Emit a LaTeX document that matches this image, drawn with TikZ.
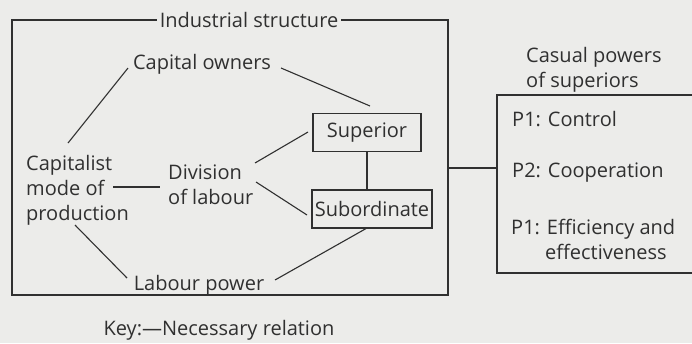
\documentclass[tikz,border=0pt]{standalone}
\usepackage{fontspec}
\setmainfont{Open Sans}
\definecolor{paper}{RGB}{236,236,234}
\definecolor{ink}{RGB}{48,48,48}
\begin{document}
\begin{tikzpicture}[x=1pt,y=-1pt,
  every node/.style={font=\fontsize{20}{25}\selectfont, text=ink, inner sep=0pt},
  txt/.style={align=left},
  rolebox/.style={draw=ink, line width=1.2pt, minimum height=38pt, inner sep=0pt},
  rel/.style={draw=ink, line width=1.1pt},
  frameline/.style={draw=ink, line width=1.2pt}]
  % canvas
  \fill[paper] (0,0) rectangle (692,343);
  \useasboundingbox (0,0) rectangle (692,343);
  \clip (0,0) rectangle (692,343);

  % labels inside the industrial structure
  \node (ind) at (249,20) {Industrial structure};
  \node (capown) at (202,64) {Capital owners};
  \node[txt, anchor=west] (capit) at (26,190) {Capitalist\\mode of\\production};
  \node[txt, anchor=west] (div) at (168,185) {Division\\of labour};
  \node[rolebox, minimum width=108pt] (sup) at (367,132.5) {Superior};
  \node[rolebox, minimum width=120pt] (sub) at (372,209) {Subordinate};
  \node (lab) at (199,285) {Labour power};

  % industrial structure frame, broken by its title
  \path[frameline] ([xshift=-3pt]ind.west) -- (12,20) -- (12,295) -- (448,295) -- (448,20) -- ([xshift=3pt]ind.east);

  % causal powers panel
  \node[txt, anchor=west] (casual) at (526,70) {Casual powers\\of superiors};
  \path[frameline] (700,95) -- (497,95) -- (497,273) -- (700,273);
  \node[anchor=west] (p1) at (512,119) {P1: Control};
  \node[anchor=west] (p2) at (512,173) {P2: Cooperation};
  \node[txt, anchor=west] (p3) at (511,239) {P1: Efficiency and\\\hspace*{34pt}effectiveness};

  \coordinate (frR) at (448,168);
  \coordinate (boxL) at (497,168);
  \path[rel] (frR) -- (boxL);

  % necessary relations
  \path[rel] ([shift={(42,-47)}]capit.west) -- ([shift={(-74,4)}]capown.center);
  \path[rel] ([shift={(79,4)}]capown.center) -- ([shift={(3,-26.5)}]sup.center);
  \path[rel] ([shift={(87,-22)}]div.west) -- ([shift={(-59,-0.5)}]sup.center);
  \path[rel] ([shift={(87,-3)}]capit.west) -- ([shift={(-8,2)}]div.west);
  \path[rel] ([shift={(88,-3)}]div.west) -- ([shift={(-65,6)}]sub.center);
  \path[rel] ([shift={(49,35)}]capit.west) -- ([shift={(-72,-7)}]lab.center);
  \path[rel] ([shift={(76,-5)}]lab.center) -- ([shift={(-5,19)}]sub.center);
  \path[rel] (sup.south) -- (sup.south |- sub.north);

  % key
  \node (key) at (219,330) {Key:---Necessary relation};
\end{tikzpicture}
\end{document}
